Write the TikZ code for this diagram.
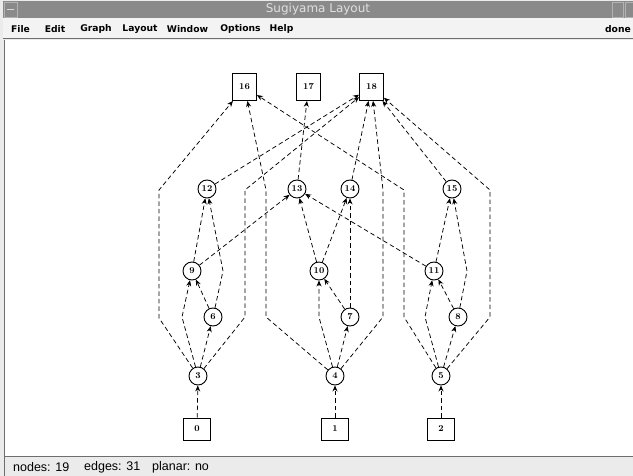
\documentclass[tikz,border=0pt]{standalone}
\usepackage{fontspec}
\newfontfamily\uifont{DejaVu Sans}
\newfontfamily\statfont{Liberation Sans}
\usetikzlibrary{arrows.meta}
\definecolor{titlegray}{HTML}{8A8A8A}
\definecolor{chrome}{HTML}{EBEBEB}
\definecolor{frame}{HTML}{6E6E6E}
\tikzset{
  lab/.style={font=\fontsize{9}{10}\selectfont\bfseries},
  topbox/.style={draw, line width=0.9pt, minimum width=24pt, minimum height=27pt, inner sep=0pt, lab},
  botbox/.style={draw, line width=0.9pt, minimum width=27pt, minimum height=22pt, inner sep=0pt, lab},
  circ/.style={draw, circle, line width=0.9pt, minimum size=18pt, inner sep=0pt, lab},
  link/.style={draw, line width=0.75pt, dash pattern=on 4.5pt off 3pt, -{Stealth[length=6pt,width=5pt]}},
  menu/.style={font=\uifont\bfseries\fontsize{9.2}{10}\selectfont, inner sep=0pt},
  stat/.style={font=\statfont\fontsize{12.5}{13}\selectfont, inner sep=0pt, anchor=west}
}
\begin{document}
\begin{tikzpicture}[x=1pt,y=-1pt]
\useasboundingbox (0,0) rectangle (633,476);
% window chrome
\fill[chrome] (0,0) rectangle (633,476);
\fill[titlegray] (3,1.5) rectangle (633,18);
\node[font=\uifont\fontsize{12}{13}\selectfont, text=white!88!black, inner sep=0pt] (title) at (318,9.5) {Sugiyama Layout};
\draw[white!70!black, line width=0.6pt] (4,2.5) rectangle (17,17);
\draw[white!85!black, line width=1pt] (7,9.5) -- (14,9.5);
\draw[white!70!black, line width=0.6pt] (612,2.5) rectangle (623,17);
\draw[white!70!black, line width=0.6pt] (625,2.5) rectangle (634,17);
\fill[chrome!60!white] (3,18) rectangle (633,39);
\node[menu] (mfile) at (20.5,29) {File};
\node[menu] (medit) at (55,29) {Edit};
\node[menu] (mgraph) at (96,29) {Graph};
\node[menu] (mlayout) at (140,29) {Layout};
\node[menu] (mwindow) at (187.5,29) {Window};
\node[menu] (moptions) at (240.5,29) {Options};
\node[menu] (mhelp) at (281.5,29) {Help};
\node[menu] (mdone) at (618,29) {done};
\draw[frame, line width=0.8pt] (3,38.5) -- (633,38.5);
\fill[white] (5,40) rectangle (633,456);
\draw[frame, line width=1pt] (4.5,40) -- (4.5,476);
\draw[frame, line width=0.8pt] (4.5,456.5) -- (633,456.5);
\node[stat] (snodes) at (13,467) {nodes: 19};
\node[stat] (sedges) at (84,467) {edges: 31};
\node[stat] (splanar) at (152,467) {planar: no};
% graph nodes
\node[topbox] (n16) at (244.5,87) {16};
\node[topbox] (n17) at (308.5,87) {17};
\node[topbox] (n18) at (371.5,87) {18};
\node[circ] (n12) at (207,189) {12};
\node[circ] (n13) at (297,189) {13};
\node[circ] (n14) at (350,189) {14};
\node[circ] (n15) at (452,189) {15};
\node[circ] (n9) at (192,271) {9};
\node[circ] (n10) at (319,271) {10};
\node[circ] (n11) at (434,271) {11};
\node[circ] (n6) at (213,317) {6};
\node[circ] (n7) at (350,317) {7};
\node[circ] (n8) at (458,317) {8};
\node[circ] (n3) at (198,376) {3};
\node[circ] (n4) at (335,376) {4};
\node[circ] (n5) at (441,376) {5};
\node[botbox] (n0) at (197,429) {0};
\node[botbox] (n1) at (335,429) {1};
\node[botbox] (n2) at (441,429) {2};
% edges
\draw[link] (n0) -- (n3);
\draw[link] (n1) -- (n4);
\draw[link] (n2) -- (n5);
\draw[link] (n3) -- (182,317) -- (n9);
\draw[link] (n3) -- (n6);
\draw[link] (n6) -- (n9);
\draw[link] (n6) -- (223,271) -- (n12);
\draw[link] (n9) -- (n12);
\draw[link] (n9) -- (n13);
\draw[link] (n12) -- (n18);
\draw[link] (n3) -- (159,318) -- (159,190) -- (n16);
\draw[link] (n3) -- (245,317) -- (245,190) -- (n18);
\draw[link] (n4) -- (319,317) -- (n10);
\draw[link] (n4) -- (n7);
\draw[link] (n7) -- (n10);
\draw[link] (n7) -- (n14);
\draw[link] (n10) -- (n13);
\draw[link] (n10) -- (n14);
\draw[link] (n13) -- (n17);
\draw[link] (n14) -- (n18);
\draw[link] (n4) -- (266,317) -- (266,190) -- (n16);
\draw[link] (n4) -- (383,317) -- (383,190) -- (n18);
\draw[link] (n5) -- (425,317) -- (n11);
\draw[link] (n5) -- (n8);
\draw[link] (n8) -- (n11);
\draw[link] (n8) -- (467,271) -- (n15);
\draw[link] (n11) -- (n15);
\draw[link] (n11) -- (n13);
\draw[link] (n15) -- (n18);
\draw[link] (n5) -- (404,317) -- (404,190) -- (n16);
\draw[link] (n5) -- (490,317) -- (490,190) -- (n18);
\end{tikzpicture}
\end{document}
